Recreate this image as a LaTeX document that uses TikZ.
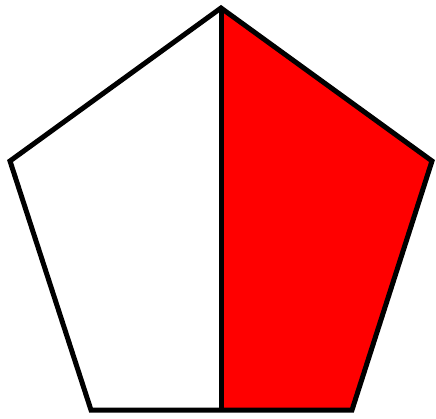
\documentclass[tikz,border=0pt]{standalone}
\usepackage{tikz}

\begin{document}
\begin{tikzpicture}[
  x=1pt,y=-1pt,
  edge/.style={draw=black,line width=5pt,line join=miter},
  half/.style={fill=red}
]
\useasboundingbox (0,0) rectangle (436,418);
% corners of the pentagon
\coordinate (top) at (221,8);
\coordinate (left) at (10,161);
\coordinate (right) at (432,161);
\coordinate (botleft) at (91,410);
\coordinate (botright) at (352,410);
\coordinate (botmid) at (221,410);
% red half
\fill[half] (top) -- (right) -- (botright) -- (botmid) -- cycle;
% outline and split
\draw[edge] (top) -- (right) -- (botright) -- (botleft) -- (left) -- cycle;
\draw[edge] (top) -- (botmid);
\end{tikzpicture}
\end{document}
